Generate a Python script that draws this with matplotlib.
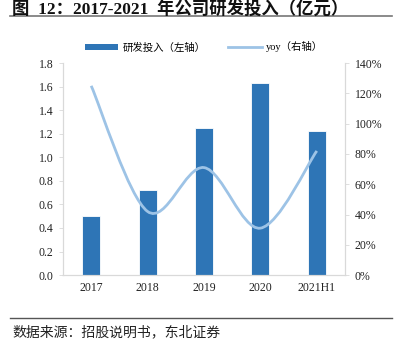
import numpy as np
import matplotlib.pyplot as plt
from matplotlib.path import Path
from matplotlib.patches import PathPatch
from matplotlib.lines import Line2D
from matplotlib.patches import Patch

plt.rcParams['font.family'] = ['Liberation Serif', 'Noto Sans CJK SC', 'DejaVu Sans']

years = ["2017", "2018", "2019", "2020", "2021H1"]
rd_spend = [0.50, 0.72, 1.25, 1.63, 1.22]
yoy = [125, 42, 71, 31, 82]

bar_color = "#2E75B6"
line_color = "#9DC3E6"
axis_gray = "#D9D9D9"

fig = plt.figure(figsize=(4.0, 3.43), dpi=100)
ax = fig.add_axes([0.1575, 0.198, 0.705, 0.618])
ax2 = ax.twinx()

x = np.arange(len(years))
ax.bar(x, rd_spend, width=0.32, color=bar_color, edgecolor="white", linewidth=0.6, zorder=2)

# smoothed line (Excel-style bezier through the points)
pts = np.column_stack([x, yoy]).astype(float)
verts = [pts[0]]
codes = [Path.MOVETO]
n = len(pts)
for i in range(n - 1):
    p0 = pts[max(i - 1, 0)]
    p1 = pts[i]
    p2 = pts[i + 1]
    p3 = pts[min(i + 2, n - 1)]
    c1 = p1 + (p2 - p0) / 6.0
    c2 = p2 - (p3 - p1) / 6.0
    verts += [c1, c2, p2]
    codes += [Path.CURVE4] * 3
ax2.add_patch(PathPatch(Path(verts, codes), facecolor="none", edgecolor=line_color,
                        linewidth=2.0, zorder=3))

ax.set_xlim(-0.5, len(years) - 0.5)
ax.set_ylim(0, 1.8)
ax.set_yticks(np.arange(0, 1.81, 0.2))
ax.set_yticklabels([f"{v:.1f}" for v in np.arange(0, 1.81, 0.2)])
ax.set_xticks(x)
ax.set_xticklabels(years)
ax2.set_ylim(0, 140)
ax2.set_yticks(np.arange(0, 141, 20))
ax2.set_yticklabels([f"{v}%" for v in range(0, 141, 20)])

for a in (ax, ax2):
    a.spines["top"].set_visible(False)
    for s in ("left", "right", "bottom"):
        a.spines[s].set_color(axis_gray)
        a.spines[s].set_linewidth(0.8)
    a.tick_params(axis="y", colors=axis_gray, labelcolor="#222222", labelsize=8.5,
                  length=3, width=0.6, pad=4)
ax.tick_params(axis="x", length=0, labelsize=8.5, labelcolor="#222222", pad=5)

handles = [Patch(facecolor=bar_color, edgecolor="none"),
           Line2D([0], [0], color=line_color, linewidth=2.0)]
fig.legend(handles, ["研发投入（左轴）", "yoy（右轴）"], loc="center",
           bbox_to_anchor=(0.51, 1 - 47 / 343), ncol=2, frameon=False, fontsize=7.5,
           handlelength=3.2, handleheight=0.5, columnspacing=2.2, handletextpad=0.4)

fig.text(0.03, 1.0, "图  12：2017-2021  年公司研发投入（亿元）", fontsize=12.5,
         fontweight="bold", va="top", ha="left", color="#111111")
fig.add_artist(Line2D([10 / 400, 392 / 400], [1 - 15.5 / 343] * 2, color="#777777", linewidth=1.2))
fig.add_artist(Line2D([10 / 400, 392 / 400], [1 - 318 / 343] * 2, color="#555555", linewidth=1.0))
fig.text(0.03, 1 - 332 / 343, "数据来源：招股说明书，东北证券", fontsize=10,
         va="center", ha="left", color="#222222")

fig.savefig("out.png", dpi=100)
